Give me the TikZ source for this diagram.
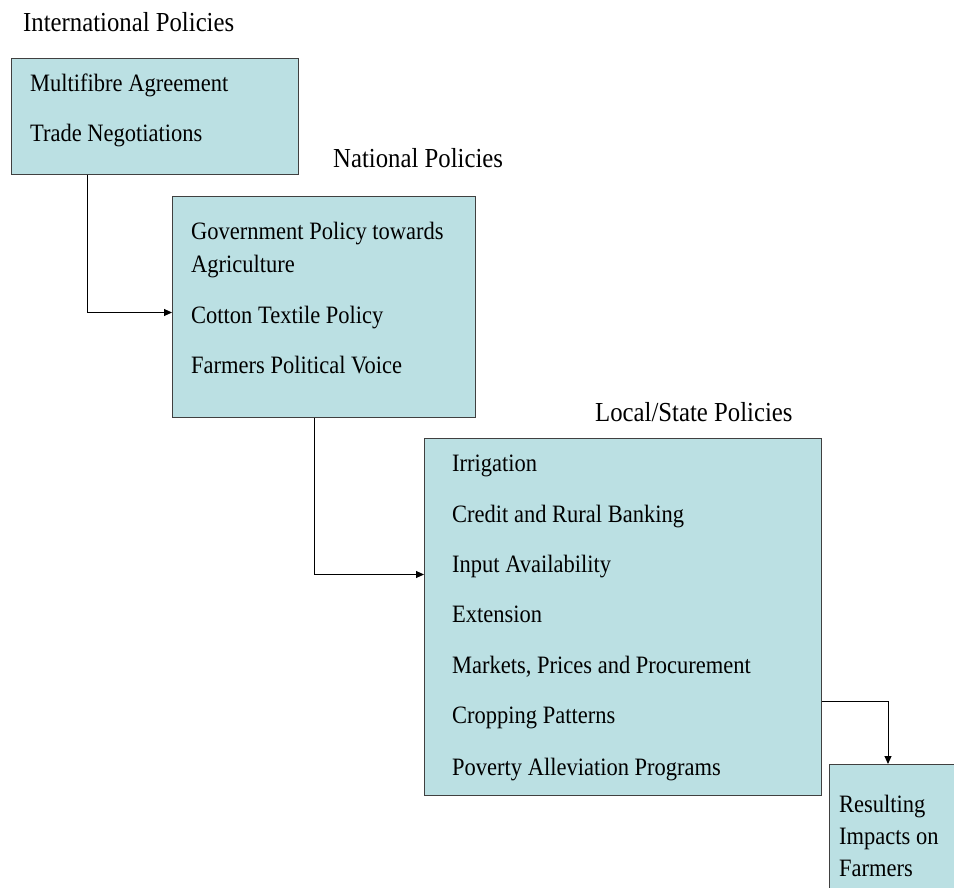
\documentclass[tikz,border=0pt]{standalone}
\usepackage{fontspec}
\setmainfont{Liberation Serif}[FakeStretch=0.9]
\usetikzlibrary{positioning, arrows.meta}
\definecolor{boxfill}{RGB}{187,224,227}
\definecolor{boxline}{RGB}{64,64,64}

\begin{document}
\begin{tikzpicture}[x=1pt, y=-1pt,
		box/.style={draw=boxline, fill=boxfill, line width=1pt, anchor=north west, inner sep=0pt},
		item/.style={anchor=base west, inner sep=0pt, font=\fontsize{25}{30}\selectfont},
		head/.style={anchor=base west, inner sep=0pt, font=\fontsize{27.5}{33}\selectfont},
		link/.style={draw=black, line width=1pt, -{Triangle[length=8pt, width=7pt]}}]
			\useasboundingbox (0,0) rectangle (954,888);
			%Titles
			\node[head] (intltitle) at (23,32) {International Policies};
			\node[head] (nattitle) at (333,168) {National Policies};
			\node[head] (loctitle) at (595,421) {Local/State Policies};
			%International
			\node[box, minimum width=287pt, minimum height=116pt] (intl) at (11,58) {};
			\node[item] (multifibre) at (30,92) {Multifibre Agreement};
			\node[item] (trade) at (30,142) {Trade Negotiations};
			%National
			\node[box, minimum width=303pt, minimum height=221pt] (nat) at (172,196) {};
			\node[item] (govt) at (191,240) {Government Policy towards};
			\node[item] (agri) at (191,272) {Agriculture};
			\node[item] (cotton) at (191,323) {Cotton Textile Policy};
			\node[item] (voice) at (191,373) {Farmers Political Voice};
			%Local/State
			\node[box, minimum width=397pt, minimum height=357pt] (loc) at (424,438) {};
			\node[item] (irrig) at (452,471) {Irrigation};
			\node[item] (credit) at (452,522) {Credit and Rural Banking};
			\node[item] (input) at (452,572) {Input Availability};
			\node[item] (ext) at (452,622) {Extension};
			\node[item] (markets) at (452,673) {Markets, Prices and Procurement};
			\node[item] (crop) at (452,723) {Cropping Patterns};
			\node[item] (poverty) at (452,775) {Poverty Alleviation Programs};
			%Impacts
			\node[box, minimum width=170pt, minimum height=170pt] (res) at (829,764) {};
			\node[item] (resulting) at (839,812) {Resulting};
			\node[item] (impacts) at (839,844) {Impacts on};
			\node[item] (farmers) at (839,876) {Farmers};
			%Links
			\draw[link] ([xshift=76pt]intl.south west) |- ([yshift=-5.5pt]nat.west);
			\draw[link] ([xshift=142pt]nat.south west) |- ([yshift=42.5pt]loc.west);
			\draw[link] ([yshift=-84.5pt]loc.east) -| ([xshift=59pt]res.north west);
		\end{tikzpicture}
\end{document}
